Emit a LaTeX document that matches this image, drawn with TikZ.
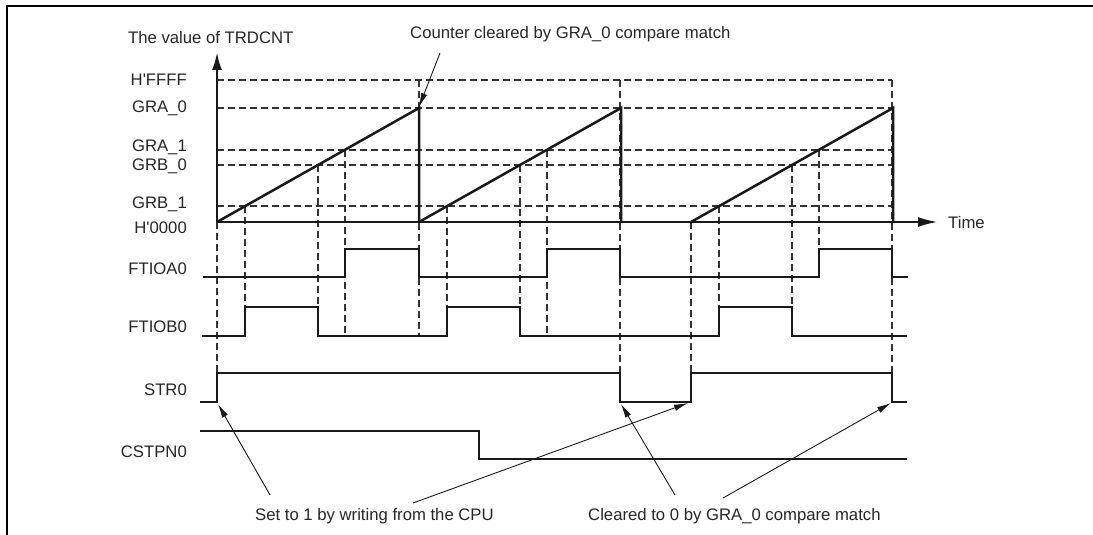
\documentclass[tikz,border=0pt]{standalone}
\usepackage{fontspec}
\setmainfont{Liberation Sans}
\usetikzlibrary{arrows.meta}

\begin{document}
\begin{tikzpicture}[x=1pt, y=-1pt,
  sig/.style={line width=2.5pt, black!90},
  guide/.style={line width=1.2pt, black!80, dash pattern=on 7pt off 4pt},
  lbl/.style={font=\fontsize{16.7}{20}\selectfont, text=black!85, inner sep=0pt},
  note/.style={line width=0.9pt, black!90, -{Latex[length=14pt, width=6.5pt]}}]

\useasboundingbox (0,0) rectangle (1093,535);

% Frame
\draw[line width=2.4pt] (7,535) -- (7,6) -- (1093,6);

% Dashed compare levels
\foreach \lv in {80,108,150,165,206}
  \draw[guide] (217,\lv) -- (892,\lv);

% Dashed time markers
\draw[guide] (217,222) -- (217,373);
\draw[guide] (419,80) -- (419,336);
\draw[guide] (620,80) -- (620,402);
\draw[guide] (691,222) -- (691,373);
\draw[guide] (892,80) -- (892,373);
\foreach \s in {217,419,691} {
  \draw[guide] (\s+28,206) -- (\s+28,307);
  \draw[guide] (\s+101,165) -- (\s+101,307);
}
\draw[guide] (345,150) -- (345,333);
\draw[guide] (547,150) -- (547,333);
\draw[guide] (819,150) -- (819,249);

% Counter ramps
\foreach \s in {217,419,691}
  \draw[sig] (\s,222) -- (\s+202,108) -- (\s+202,222);

% Axes
\draw[sig, -{Latex[length=18pt, width=10pt]}] (217,222) -- (217,52);
\draw[sig, -{Latex[length=20pt, width=10pt]}] (217,222) -- (938,222);
\node[lbl, anchor=base west] (cntname) at (128,44) {The value of TRDCNT};
\node[lbl, anchor=base west] (timename) at (948,228) {Time};

% Level labels
\node[lbl, anchor=base east] (lvffff) at (187,85) {H\textquotesingle FFFF};
\node[lbl, anchor=base east] (lvgra0) at (187,113) {GRA\_0};
\node[lbl, anchor=base east] (lvgra1) at (187,151) {GRA\_1};
\node[lbl, anchor=base east] (lvgrb0) at (187,170) {GRB\_0};
\node[lbl, anchor=base east] (lvgrb1) at (187,208) {GRB\_1};
\node[lbl, anchor=base east] (lvzero) at (187,233) {H\textquotesingle 0000};

% Output waveforms
\draw[sig] (203,277) -- (345,277) -- (345,249) -- (419,249) -- (419,277)
  -- (547,277) -- (547,249) -- (620,249) -- (620,277)
  -- (819,277) -- (819,249) -- (892,249) -- (892,277) -- (908,277);
\draw[sig] (202,336) -- (245,336) -- (245,307) -- (318,307) -- (318,336)
  -- (447,336) -- (447,307) -- (520,307) -- (520,336)
  -- (719,336) -- (719,307) -- (792,307) -- (792,336) -- (907,336);
\draw[sig] (200,402) -- (217,402) -- (217,373) -- (620,373) -- (620,402)
  -- (691,402) -- (691,373) -- (892,373) -- (892,402) -- (907,402);
\draw[sig] (200,431) -- (479,431) -- (479,459) -- (907,459);

% Signal labels
\node[lbl, anchor=base east] (ftioa) at (187,274) {FTIOA0};
\node[lbl, anchor=base east] (ftiob) at (187,332) {FTIOB0};
\node[lbl, anchor=base east] (strz) at (187,395) {STR0};
\node[lbl, anchor=base east] (cstp) at (187,457) {CSTPN0};

% Annotations
\node[lbl, anchor=base west] (cnttxt) at (410,39) {Counter cleared by GRA\_0 compare match};
\node[lbl, anchor=base west] (settxt) at (255,520) {Set to 1 by writing from the CPU};
\node[lbl, anchor=base west] (clrtxt) at (588,520) {Cleared to 0 by GRA\_0 compare match};

\coordinate (cnttail) at (440,53);
\coordinate (cntclr) at (419,107);
\coordinate (settailA) at (270,495);
\coordinate (strset1) at (218,404);
\coordinate (settailB) at (413,503);
\coordinate (strset2) at (688,403);
\coordinate (clrtailA) at (675,495);
\coordinate (strclr1) at (621,404);
\coordinate (clrtailB) at (723,498);
\coordinate (strclr2) at (891,403);

\draw[note] (cnttail) -- (cntclr);
\draw[note] (settailA) -- (strset1);
\draw[note] (settailB) -- (strset2);
\draw[note] (clrtailA) -- (strclr1);
\draw[note] (clrtailB) -- (strclr2);

\end{tikzpicture}
\end{document}
